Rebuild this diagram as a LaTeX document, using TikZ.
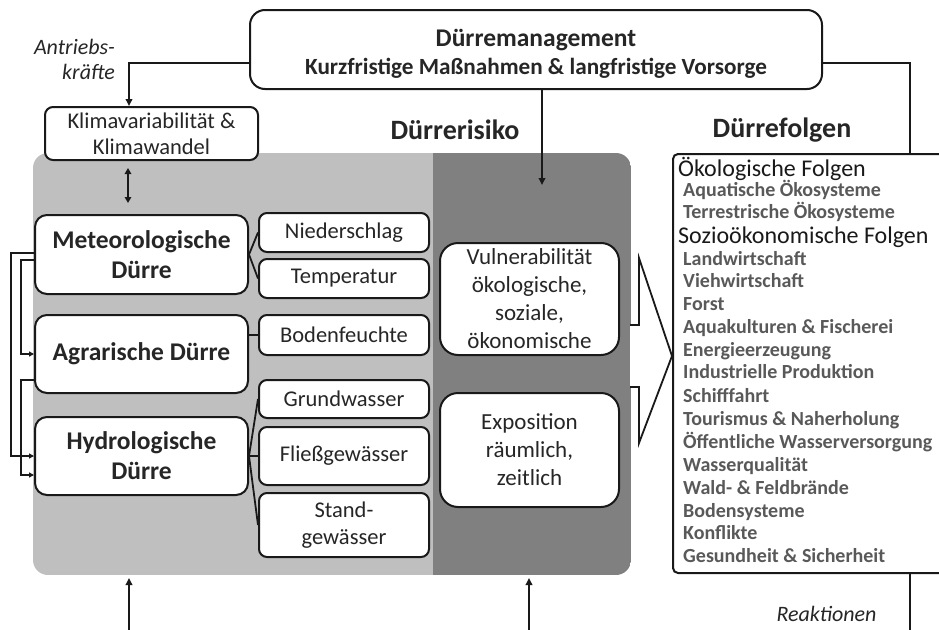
\documentclass[tikz,border=0pt]{standalone}
\usepackage{fontspec}
\setmainfont{Carlito}
\usetikzlibrary{arrows.meta,calc}
\definecolor{lg}{HTML}{BFBFBF}
\definecolor{dg}{HTML}{808080}
\definecolor{txt}{HTML}{262626}
\definecolor{itm}{HTML}{595959}
\begin{document}
\begin{tikzpicture}[x=1pt,y=-1pt,
  box/.style={draw=black!90, line width=2pt, fill=white, align=center, inner sep=0pt, text=txt},
  bigbox/.style={box, rounded corners=12pt, minimum width=213pt, font=\bfseries\fontsize{25.5}{30}\selectfont},
  smallbox/.style={box, rounded corners=8pt, minimum width=170pt, font=\fontsize{22.5}{26.5}\selectfont},
  conn/.style={line width=1.8pt, draw=black!90},
  arr/.style={conn, -{Triangle[length=7pt,width=6.5pt]}},
  larr/.style={conn, -{Triangle[length=5pt,width=5pt]}},
  title/.style={font=\bfseries\fontsize{28}{30}\selectfont, text=txt},
  head/.style={anchor=base west, inner sep=0pt, font=\fontsize{24}{26}\selectfont, text=black!90},
  item/.style={anchor=base west, inner sep=0pt, font=\bfseries\fontsize{20}{22}\selectfont, text=itm},
  ital/.style={font=\itshape\fontsize{22}{25}\selectfont, text=txt, inner sep=0pt}
]
\clip (0,0) rectangle (939,629);
\fill[white] (0,0) rectangle (939,629);

% background areas
\begin{scope}
  \clip[rounded corners=15pt] (33,153) rectangle (631,575);
  \fill[lg] (33,153) rectangle (433,575);
  \fill[dg] (433,153) rectangle (631,575);
\end{scope}

% top box
\node[box, rounded corners=15pt, minimum width=572pt, minimum height=79pt,
      font=\bfseries\fontsize{23.2}{28}\selectfont] (top) at (536,49.5)
      {\rule{0pt}{26pt}{\fontsize{25.5}{28}\selectfont Dürremanagement}\\Kurzfristige Maßnahmen \& langfristige Vorsorge};

\node[ital, align=right, anchor=east] (antr) at (115,59.5) {Antriebs-\\kräfte};
\node[ital] (reak) at (826.5,614) {Reaktionen};

\node[title] (risk) at (455,130) {Dürrerisiko};
\node[title] (fol) at (782,130) {Dürrefolgen};

% climate box
\node[box, rounded corners=8pt, minimum width=213pt, minimum height=53pt,
      font=\fontsize{22.5}{26}\selectfont] (klima) at (151.5,133.5)
      {Klimavariabilität \&\\Klimawandel};

% drought types
\node[bigbox, minimum height=79pt] (meteo) at (141.5,254.5) {Meteorologische\\Dürre};
\node[bigbox, minimum height=78pt] (agrar) at (141.5,354) {Agrarische Dürre};
\node[bigbox, minimum height=78pt] (hydro) at (141.5,456) {Hydrologische\\Dürre};

% variables
\node[smallbox, minimum height=39pt] (nied) at (344,232.5) {Niederschlag};
\node[smallbox, minimum height=39pt] (temp) at (344,278.5) {Temperatur};
\node[smallbox, minimum height=40pt] (boden) at (344,335) {Bodenfeuchte};
\node[smallbox, minimum height=38pt] (grund) at (344,399) {Grundwasser};
\node[smallbox, minimum height=58pt] (fliess) at (344,456) {Fließgewässer};
\node[smallbox, minimum height=64pt] (stand) at (344,525) {Stand-\\gewässer};

% vulnerability / exposure
\node[box, rounded corners=18pt, minimum width=179pt, minimum height=112pt,
      font=\fontsize{23}{28}\selectfont] (vuln) at (529.5,299)
      {Vulnerabilität\\ökologische,\\soziale,\\ökonomische};
\node[box, rounded corners=18pt, minimum width=179pt, minimum height=114pt,
      font=\fontsize{23}{28}\selectfont] (expo) at (529.5,450)
      {Exposition\\räumlich,\\zeitlich};

% big arrow
\draw[conn, fill=white, line join=miter] (630,325) -- (639,325) -- (639,258) -- (672,356)
  -- (639,443) -- (639,387) -- (630,387);

% consequences box
\node[draw=black!90, line width=2pt, rounded corners=5pt, fill=white, inner sep=0pt,
      minimum width=277pt, minimum height=419pt] (folgen) at (811.5,363.5) {};

\node[head] (h1) at (678,176) {Ökologische Folgen};
\node[item] (i1) at (683,196) {Aquatische Ökosysteme};
\node[item] (i2) at (683,218) {Terrestrische Ökosysteme};
\node[head] (h2) at (678,243) {Sozioökonomische Folgen};
\node[item] (i3) at (683,265) {Landwirtschaft};
\node[item] (i4) at (683,287) {Viehwirtschaft};
\node[item] (i5) at (683,310) {Forst};
\node[item] (i6) at (683,333) {Aquakulturen \& Fischerei};
\node[item] (i7) at (683,356) {Energieerzeugung};
\node[item] (i8) at (683,378) {Industrielle Produktion};
\node[item] (i9) at (683,402) {Schifffahrt};
\node[item] (i10) at (683,425) {Tourismus \& Naherholung};
\node[item] (i11) at (683,448) {Öffentliche Wasserversorgung};
\node[item] (i12) at (683,471) {Wasserqualität};
\node[item] (i13) at (683,494) {Wald- \& Feldbrände};
\node[item] (i14) at (683,517) {Bodensysteme};
\node[item] (i15) at (683,539) {Konflikte};
\node[item] (i16) at (683,562) {Gesundheit \& Sicherheit};

% coordinates for free ends
\coordinate (riskpt) at (542,185);
\coordinate (da1) at (128,168);
\coordinate (da2) at (128,203);
\coordinate (b1s) at (129,640);
\coordinate (b1e) at (129,578);
\coordinate (b2s) at (529,640);
\coordinate (b2e) at (529,578);
\coordinate (reactEnd) at (910,640);

% connectors
\draw[arr] ([yshift=-13.5pt]top.west) -| ([xshift=-22.5pt]klima.north);
\draw[conn] ([yshift=-13.5pt]top.east) -| ([xshift=98.5pt]folgen.north);
\draw[conn] ([xshift=98.5pt]folgen.south) -- (reactEnd);
\draw[arr] ([xshift=6pt]top.south) -- (riskpt);
\draw[conn, {Triangle[length=6pt,width=6.5pt]}-{Triangle[length=6pt,width=6.5pt]}] (da1) -- (da2);
\draw[arr] (b1s) -- (b1e);
\draw[arr] (b2s) -- (b2e);

\draw[larr] ([yshift=1.5pt]meteo.west) -- ++(-23,0) |- (hydro.west);
\draw[larr] ([yshift=-5.5pt]meteo.west) -- ++(-13,0) |- (agrar.west);
\draw[larr] ([yshift=-26pt]agrar.west) -- ++(-13,0) |- ([yshift=-19pt]hydro.west);

\draw[conn] (meteo.east) -- (nied.west);
\draw[conn] (meteo.east) -- (temp.west);
\draw[conn] (agrar.east |- boden.west) -- (boden.west);
\draw[conn] (hydro.east) -- (grund.west);
\draw[conn] (hydro.east) -- (fliess.west);
\draw[conn] (hydro.east) -- (stand.west);
\end{tikzpicture}
\end{document}
